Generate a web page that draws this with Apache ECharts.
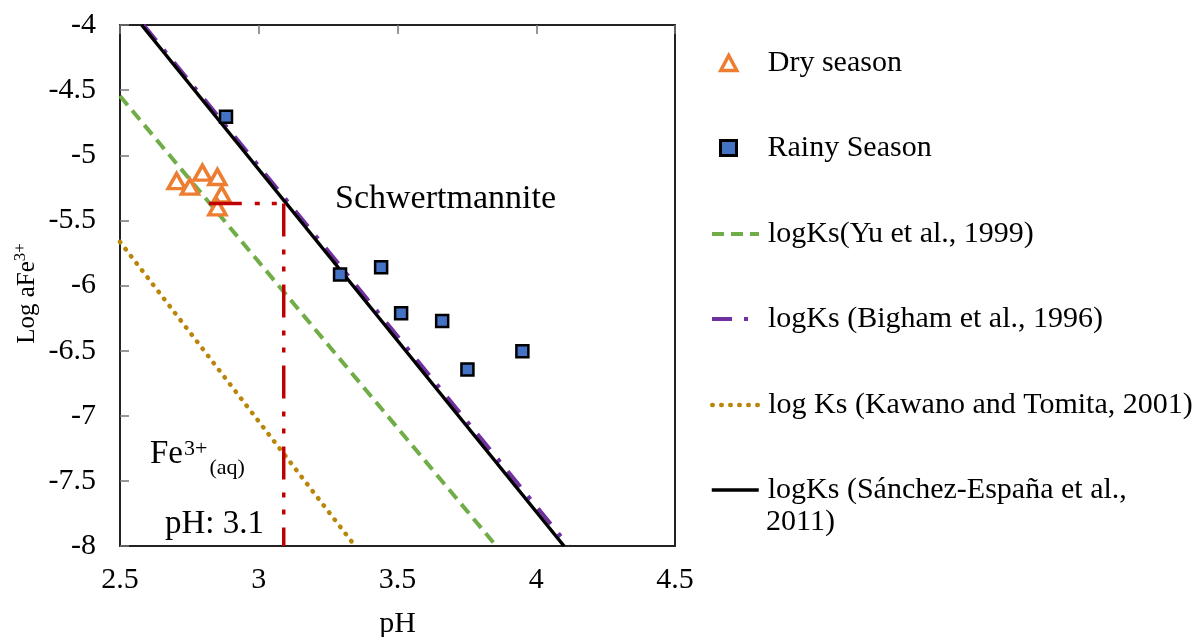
<!DOCTYPE html>
<html>
<head>
<meta charset="utf-8">
<script src="https://cdn.jsdelivr.net/npm/echarts@6/dist/echarts.min.js"></script>
<style>
html,body{margin:0;padding:0;background:#fff;}
#chart{width:1201px;height:637px;}
</style>
</head>
<body>
<div id="chart"></div>
<script>
// ---------- data ----------
const xMin = 2.5, xMax = 4.5, xStep = 0.5;
const yMin = -8, yMax = -4, yStep = 0.5;

const dryPH    = [2.704, 2.752, 2.797, 2.851, 2.866, 2.851];
const dryLogFe = [-5.198, -5.241, -5.134, -5.167, -5.300, -5.400];

const rainyPH    = [2.882, 3.293, 3.441, 3.513, 3.661, 3.752, 3.950];
const rainyLogFe = [-4.704, -5.915, -5.859, -6.214, -6.273, -6.644, -6.504];

const yuPH = [2.5, 3.856],        yuLogFe = [-4.545, -8];
const bighamPH = [2.585, 4.117],  bighamLogFe = [-4, -8];
const kawanoPH = [2.5, 3.347],    kawanoLogFe = [-5.665, -8];
const sanchezPH = [2.578, 4.100], sanchezLogFe = [-4, -8];

const guideHPH = [2.82, 3.09], guideHLogFe = [-5.37, -5.37];
const guideVPH = [3.09, 3.09], guideVLogFe = [-5.37, -8];

const seriesNames = [
  'Dry season',
  'Rainy Season',
  'logKs(Yu et al., 1999)',
  'logKs (Bigham et al., 1996)',
  'log Ks (Kawano and Tomita, 2001)',
  'logKs (Sánchez-España et al., 2011)'
];
const lastLegendLines = ['logKs (Sánchez-España et al.,', '2011)'];

const annotations = [
  {key: 'schw', text: 'Schwertmannite', ph: 3.275, logFe: -5.335},
  {key: 'fe', text: '{fe|Fe}{sup|3+}{sub|(aq)}', ph: 2.608, logFe: -7.30},
  {key: 'ph', text: 'pH: 3.1', ph: 2.662, logFe: -7.83}
];

// ---------- helpers ----------
const zip = (a, b) => a.map((v, i) => [v, b[i]]);
const FONT = "'Liberation Serif', 'Times New Roman', Times, serif";

const chart = echarts.init(document.getElementById('chart'), null, {renderer: 'canvas'});

const frame = {show: true, onZero: false, lineStyle: {color: '#222', width: 2}};

const legendText = (padLeft) => ({
  fontSize: 30, fontFamily: FONT, color: '#000', lineHeight: 30, padding: [0, 0, 0, padLeft]
});

function symLegend(name, top, bw) {
  return {
    data: [name], left: 719, top: top, orient: 'vertical', padding: 0,
    itemWidth: 16, itemHeight: 15, selectedMode: false,
    itemStyle: {borderWidth: bw},
    textStyle: legendText(26)
  };
}
function lineLegend(name, top, width) {
  return {
    data: [name], left: 710, top: top, orient: 'vertical', padding: 0,
    itemWidth: 47, itemHeight: 14, selectedMode: false,
    itemStyle: {color: 'rgba(0,0,0,0)', borderWidth: 0, opacity: 0},
    lineStyle: {width: width},
    textStyle: legendText(4),
    formatter: (n) => n === seriesNames[5] ? lastLegendLines[0] : n
  };
}

const option = {
  backgroundColor: '#fff',
  animation: false,
  grid: {left: 120, right: 526, top: 25, bottom: 91, outerBoundsMode: 'none', containLabel: false},
  xAxis: [
    {
      type: 'value', min: xMin, max: xMax, interval: xStep, position: 'bottom',
      axisLine: frame, axisTick: {show: false}, splitLine: {show: false},
      axisLabel: {fontSize: 30, fontFamily: FONT, color: '#000', margin: 19,
                  showMinLabel: true, showMaxLabel: true},
      name: 'pH', nameLocation: 'middle', nameGap: 63,
      nameTextStyle: {fontSize: 30, fontFamily: FONT, color: '#000'}
    },
    {
      type: 'value', min: xMin, max: xMax, interval: xStep, position: 'top',
      axisLine: frame,
      axisTick: {show: true, inside: true, length: 9, lineStyle: {color: '#777', width: 1.5}},
      axisLabel: {show: false}, splitLine: {show: false}
    }
  ],
  yAxis: [
    {
      type: 'value', min: yMin, max: yMax, interval: yStep, position: 'left',
      axisLine: frame,
      axisTick: {show: true, inside: true, length: 9, lineStyle: {color: '#777', width: 1.5}},
      splitLine: {show: false},
      axisLabel: {fontSize: 30, fontFamily: FONT, color: '#000', margin: 24,
                  showMinLabel: true, showMaxLabel: true},
      name: '{a|Log aFe}{b|3+}', nameLocation: 'middle', nameGap: 78, nameRotate: 90,
      nameTextStyle: {
        fontFamily: FONT, color: '#000', padding: [0, 16, 0, 0],
        rich: {
          a: {fontSize: 25, fontFamily: FONT, color: '#000', lineHeight: 30},
          b: {fontSize: 17, fontFamily: FONT, color: '#000', lineHeight: 17, padding: [0, 0, 12, 0]}
        }
      }
    },
    {
      type: 'value', min: yMin, max: yMax, interval: yStep, position: 'right',
      axisLine: frame, axisTick: {show: false}, axisLabel: {show: false}, splitLine: {show: false}
    }
  ],
  legend: [
    symLegend(seriesNames[0], 48, 3.5),
    symLegend(seriesNames[1], 133, 3),
    lineLegend(seriesNames[2], 219, 4),
    lineLegend(seriesNames[3], 304, 4),
    lineLegend(seriesNames[4], 390, 4.5),
    lineLegend(seriesNames[5], 475, 3.5)
  ],
  series: [
    {
      name: seriesNames[2], type: 'line', data: zip(yuPH, yuLogFe),
      symbol: 'none', silent: true, z: 2,
      itemStyle: {color: '#70AD47'},
      lineStyle: {color: '#70AD47', width: 4, type: [12, 7]}
    },
    {
      name: seriesNames[3], type: 'line', data: zip(bighamPH, bighamLogFe),
      symbol: 'none', silent: true, z: 2,
      itemStyle: {color: '#7030A0'},
      lineStyle: {color: '#7030A0', width: 4, type: [20, 12, 4, 12]}
    },
    {
      name: seriesNames[4], type: 'line', data: zip(kawanoPH, kawanoLogFe),
      symbol: 'none', silent: true, z: 2,
      itemStyle: {color: '#BF8F00'},
      lineStyle: {color: '#B8860B', width: 4.5, type: [0.5, 8.5], cap: 'round'}
    },
    {
      name: seriesNames[5], type: 'line', data: zip(sanchezPH, sanchezLogFe),
      symbol: 'none', silent: true, z: 3,
      itemStyle: {color: '#000'},
      lineStyle: {color: '#000', width: 3.5}
    },
    {
      name: 'guideH', type: 'line', data: zip(guideHPH, guideHLogFe),
      symbol: 'none', silent: true, z: 6,
      lineStyle: {color: '#C00000', width: 3.5, type: [33, 13, 5, 12, 5, 13]}
    },
    {
      name: 'guideV', type: 'line', data: zip(guideVPH, guideVLogFe),
      symbol: 'none', silent: true, z: 6,
      lineStyle: {color: '#C00000', width: 3.5, type: [33, 13, 5, 12, 5, 13]}
    },
    {
      name: seriesNames[0], type: 'scatter', data: zip(dryPH, dryLogFe),
      symbol: 'triangle', symbolSize: [17, 15], z: 5,
      itemStyle: {color: '#fff', borderColor: '#ED7D31', borderWidth: 3.5, opacity: 1}
    },
    {
      name: seriesNames[1], type: 'scatter', data: zip(rainyPH, rainyLogFe),
      symbol: 'rect', symbolSize: 12, z: 5,
      itemStyle: {color: '#4472C4', borderColor: '#000', borderWidth: 2.5, opacity: 1}
    }
  ]
};

chart.setOption(option);

// annotations placed from data coordinates
const richFe = {
  fe: {fontSize: 33, fontFamily: FONT, fill: '#000', lineHeight: 36},
  sup: {fontSize: 22, fontFamily: FONT, fill: '#000', lineHeight: 22, padding: [0, 0, 11, 1]},
  sub: {fontSize: 22, fontFamily: FONT, fill: '#000', lineHeight: 22, padding: [26, 0, 0, 2]}
};
const graphics = annotations.map(a => {
  const p = chart.convertToPixel({gridIndex: 0}, [a.ph, a.logFe]);
  const style = {
    text: a.text, x: p[0], y: p[1], fill: '#000',
    fontSize: a.key === 'schw' ? 34 : 33, fontFamily: FONT, align: 'left', verticalAlign: 'middle'
  };
  if (a.key === 'fe') style.rich = richFe;
  return {type: 'text', silent: true, z: 10, style: style};
});
// second line of the last legend entry, aligned with the legend text column
graphics.push({
  type: 'text', silent: true, z: 10,
  style: {text: lastLegendLines[1], x: 766, y: 522, fill: '#000', fontSize: 30,
          fontFamily: FONT, align: 'left', verticalAlign: 'middle'}
});
chart.setOption({graphic: graphics});
</script>
</body>
</html>
